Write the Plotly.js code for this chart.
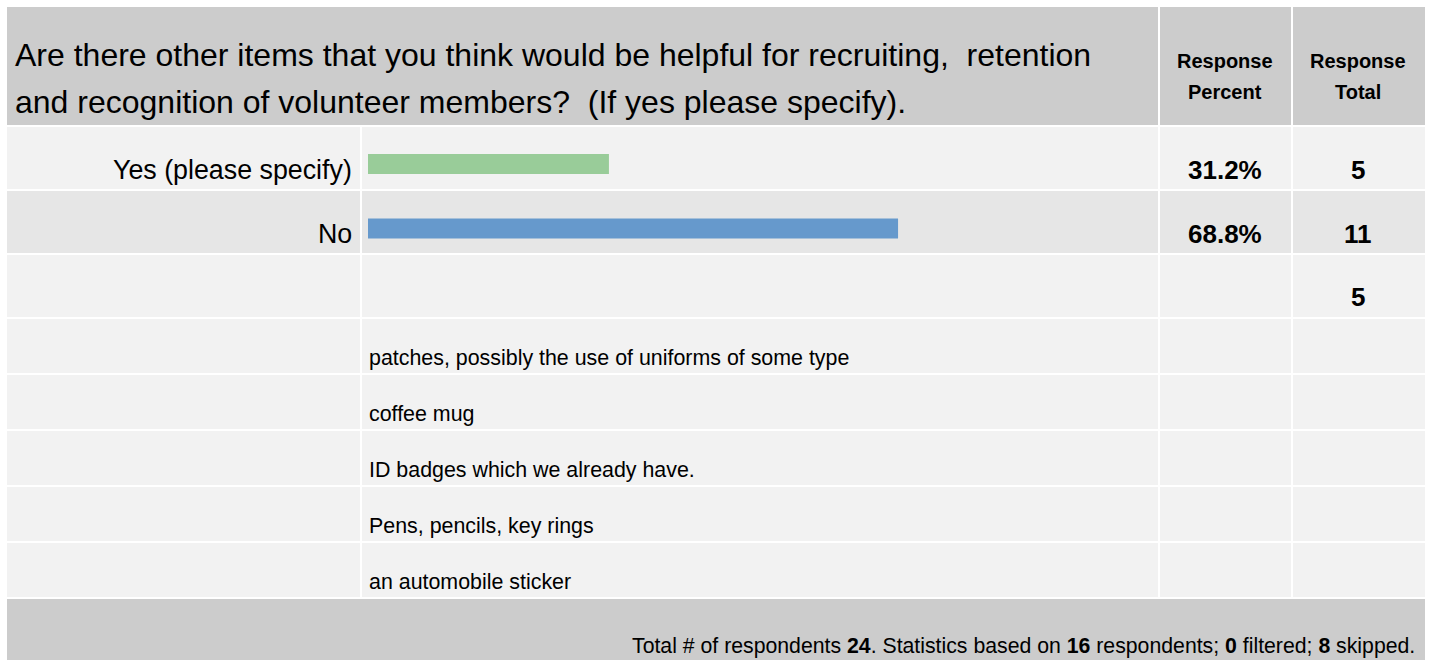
<!DOCTYPE html>
<html><head><meta charset="utf-8">
<script src="https://cdn.plot.ly/plotly-3.0.1.min.js"></script>
<style>html,body{margin:0;padding:0;background:#fff;overflow:hidden;}</style>
</head><body><div id="chart" style="width:1429px;height:660px;"></div>
<script>
// ---- data ----
const questionLines = ["Are there other items that you think would be helpful for recruiting,\u00a0 retention", "and recognition of volunteer members?\u00a0 (If yes please specify)."];
const headerPercent = ["Response", "Percent"];
const headerTotal = ["Response", "Total"];
const categories = ["Yes (please specify)", "No"];
const percentValues = [31.25, 68.75];
const percentLabels = ["31.2%", "68.8%"];
const responseTotals = [5, 11];
const commentCount = 5;
const comments = ["patches, possibly the use of uniforms of some type", "coffee mug", "ID badges which we already have.", "Pens, pencils, key rings", "an automobile sticker"];
const barColors = ["#99CC99", "#6699CC"];
const totalRespondents = 24;
const basedOn = 16;
const filtered = 0;
const skipped = 8;

// ---- layout helpers ----
const W = 1429, H = 660;
const px = x => x / W;
const py = y => 1 - y / H;
const FONT = "Arial, 'Liberation Sans', sans-serif";
const shapes = [];
function rect(x0, y0, x1, y1, color) {
  shapes.push({type: 'rect', xref: 'paper', yref: 'paper', x0: px(x0), x1: px(x1), y0: py(y1), y1: py(y0),
    fillcolor: color, line: {width: 0}, layer: 'below'});
}
const annotations = [];
function txt(text, x, baseline, size, anchor, opts) {
  annotations.push(Object.assign({xref: 'paper', yref: 'paper', x: px(x), y: py(baseline - 0.3465 * size),
    xanchor: anchor, yanchor: 'middle', showarrow: false, text: text,
    font: {family: FONT, size: size, color: '#000'}, borderpad: 0}, opts || {}));
}

const GRAY = '#CCCCCC', LIGHT = '#F2F2F2', MID = '#E6E6E6';
const colL = [7, 360], colB = [362, 1158], colP = [1160, 1291], colT = [1293, 1425];
// header
rect(7, 7, 1158, 125, GRAY);
rect(colP[0], 7, colP[1], 125, GRAY);
rect(colT[0], 7, colT[1], 125, GRAY);
// answer rows
const rowTops = [127, 191, 255];
const rowColors = [LIGHT, MID, LIGHT];
rowTops.forEach((t, i) => {
  [colL, colB, colP, colT].forEach(c => rect(c[0], t, c[1], t + 62, rowColors[i]));
});
// comment rows
const commentTops = [319, 375, 431, 487, 543];
commentTops.forEach(t => {
  [colL, colB, colP, colT].forEach(c => rect(c[0], t, c[1], t + 54, LIGHT));
});
// footer
rect(7, 599, 1425, 665, GRAY);

// header texts
questionLines.forEach((l, i) => txt(l, 14, [66, 113][i], 32, 'left'));
headerPercent.forEach((l, i) => txt('<b>' + l + '</b>', 1225, [68, 99][i], 20, 'center'));
headerTotal.forEach((l, i) => txt('<b>' + l + '</b>', 1358, [68, 99][i], 20, 'center'));
// rows
categories.forEach((c, i) => {
  const base = rowTops[i] + 52;
  txt(c, 353, base, 26.8, 'right');
  txt('<b>' + percentLabels[i] + '</b>', 1225, base, 26, 'center');
  txt('<b>' + responseTotals[i] + '</b>', 1358, base, 26, 'center');
});
txt('<b>' + commentCount + '</b>', 1358, rowTops[2] + 51, 26, 'center');
comments.forEach((c, i) => txt(c, 368, commentTops[i] + 46, 21.4, 'left'));
txt('Total # of respondents <b>' + totalRespondents + '</b>. Statistics based on <b>' + basedOn +
    '</b> respondents; <b>' + filtered + '</b> filtered; <b>' + skipped + '</b> skipped.', 1416, 653, 21.25, 'right');

const trace = {
  type: 'bar', orientation: 'h', x: percentValues, y: categories,
  marker: {color: barColors, line: {width: 0}}, width: 0.31, hoverinfo: 'skip'
};

const layout = {
  width: W, height: H, margin: {l: 0, r: 0, t: 0, b: 0, pad: 0},
  paper_bgcolor: '#FFFFFF', plot_bgcolor: 'rgba(0,0,0,0)', showlegend: false,
  xaxis: {domain: [px(368), px(1139)], range: [0, 100], visible: false, fixedrange: true},
  yaxis: {domain: [py(260.75), py(131.75)], type: 'category', categoryarray: categories,
          range: [1.5, -0.5], visible: false, fixedrange: true},
  shapes: shapes, annotations: annotations
};
Plotly.newPlot('chart', [trace], layout, {displayModeBar: false, staticPlot: true});
</script></body></html>
